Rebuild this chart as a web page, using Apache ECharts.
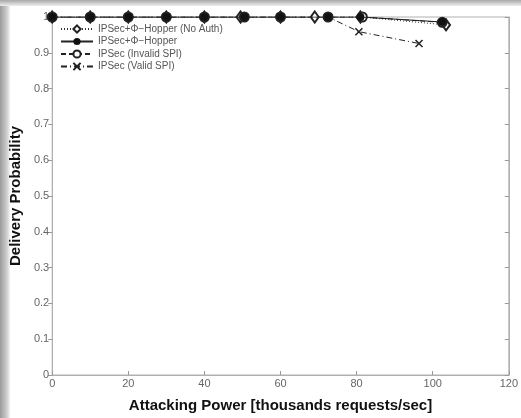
<!DOCTYPE html>
<html><head><meta charset="utf-8">
<script src="https://cdn.jsdelivr.net/npm/echarts@6/dist/echarts.min.js"></script>
<style>html,body{margin:0;padding:0;background:#fff}#c{width:521px;height:418px}</style>
</head><body><div id="c"></div>
<script>
const seriesNames = ['IPSec+\u03A6\u2212Hopper (No Auth)', 'IPSec+\u03A6\u2212Hopper', 'IPSec (Invalid SPI)', 'IPSec (Valid SPI)'];
const xNoAuth = [0, 10, 20, 30, 40, 49.5, 60, 69, 81, 103.5];
const yNoAuth = [1, 1, 1, 1, 1, 1, 1, 1, 1, 0.978];
const xHopper = [0, 10, 20, 30, 40, 50.5, 60, 72.5, 81, 102.5];
const yHopper = [1, 1, 1, 1, 1, 1, 1, 1, 1, 0.986];
const xInvalid = [0, 10, 20, 30, 40, 50.5, 60, 72.5, 81.5, 102.5];
const yInvalid = [1, 1, 1, 1, 1, 1, 1, 1, 1, 0.985];
const xValid = [0, 10, 20, 30, 40, 50.5, 60, 72.5, 80.6, 96.4];
const yValid = [1, 1, 1, 1, 1, 1, 1, 1, 0.959, 0.926];
const xTicks = {min: 0, max: 120, interval: 20};
const yTicks = {min: 0, max: 1, interval: 0.1};

function pairs(xs, ys) { return xs.map((x, i) => [x, ys[i]]); }
const xMark = 'path://M0,0L10,10M10,0L0,10';

const chart = echarts.init(document.getElementById('c'), null, {renderer: 'canvas'});
const font = 'Liberation Sans, Arial, sans-serif';
chart.setOption({
  animation: false,
  backgroundColor: '#fff',
  graphic: [
    {type: 'rect', left: 0, top: 0, shape: {width: 10, height: 418}, z: -1,
      style: {fill: new echarts.graphic.LinearGradient(0, 0, 1, 0, [{offset: 0, color: '#9a9a9a'}, {offset: 0.7, color: '#cfcfcf'}, {offset: 1, color: '#f4f4f4'}])}},
    {type: 'rect', left: 0, top: 0, shape: {width: 521, height: 6}, z: -1,
      style: {fill: new echarts.graphic.LinearGradient(0, 0, 0, 1, [{offset: 0, color: '#a8a8a8'}, {offset: 1, color: '#eeeeee'}])}}
  ],
  grid: {left: 52, right: 6, top: 17, bottom: 35, show: true, borderColor: '#b0b0b0', borderWidth: 1},
  legend: {
    data: seriesNames, orient: 'vertical', left: 60, top: 24, itemGap: 2.5, itemWidth: 32, itemHeight: 9,
    textStyle: {fontFamily: font, fontSize: 10, color: '#555'}, padding: 0
  },
  xAxis: [{
    type: 'value', min: xTicks.min, max: xTicks.max, interval: xTicks.interval,
    name: 'Attacking Power [thousands requests/sec]', nameLocation: 'middle', nameGap: 23,
    nameTextStyle: {fontFamily: font, fontSize: 15, fontWeight: 'bold', color: '#111'},
    axisLine: {lineStyle: {color: '#b0b0b0'}},
    axisTick: {inside: true, length: 4, lineStyle: {color: '#999'}},
    axisLabel: {fontFamily: font, fontSize: 11, color: '#666', margin: 3},
    splitLine: {show: false}
  }],
  yAxis: [{
    type: 'value', min: yTicks.min, max: yTicks.max, interval: yTicks.interval,
    name: 'Delivery Probability', nameLocation: 'middle', nameGap: 28,
    nameTextStyle: {fontFamily: font, fontSize: 15, fontWeight: 'bold', color: '#111'},
    axisLine: {lineStyle: {color: '#b0b0b0'}},
    axisTick: {inside: false, length: 4, lineStyle: {color: '#999'}},
    axisLabel: {fontFamily: font, fontSize: 11, color: '#666', margin: 3,
      formatter: v => String(Math.round(v * 10) / 10)},
    splitLine: {show: false}
  }, {
    type: 'value', min: yTicks.min, max: yTicks.max, interval: yTicks.interval, position: 'right',
    axisLine: {show: true, lineStyle: {color: '#b0b0b0'}},
    axisTick: {inside: true, length: 4, lineStyle: {color: '#999'}},
    axisLabel: {show: false}, splitLine: {show: false}
  }],
  series: [
    {name: seriesNames[0], type: 'line', data: pairs(xNoAuth, yNoAuth), symbol: 'emptyDiamond', symbolSize: [8, 11],
      lineStyle: {color: '#333', width: 1, type: [1, 2]}, itemStyle: {color: '#222', borderWidth: 1.3}, z: 2},
    {name: seriesNames[1], type: 'line', data: pairs(xHopper, yHopper), symbol: 'circle', symbolSize: 8,
      lineStyle: {color: '#222', width: 1.2, type: 'solid'}, itemStyle: {color: '#111'}, z: 5},
    {name: seriesNames[2], type: 'line', data: pairs(xInvalid, yInvalid), symbol: 'emptyCircle', symbolSize: 9,
      lineStyle: {color: '#222', width: 1, type: [5, 3]}, itemStyle: {color: '#222', borderWidth: 1.5}, z: 3},
    {name: seriesNames[3], type: 'line', data: pairs(xValid, yValid), symbol: xMark, symbolSize: 7,
      lineStyle: {color: '#222', width: 1, type: [6, 3, 1, 3]}, itemStyle: {color: '#222', borderColor: '#222', borderWidth: 1.5}, z: 1}
  ]
});
</script></body></html>
